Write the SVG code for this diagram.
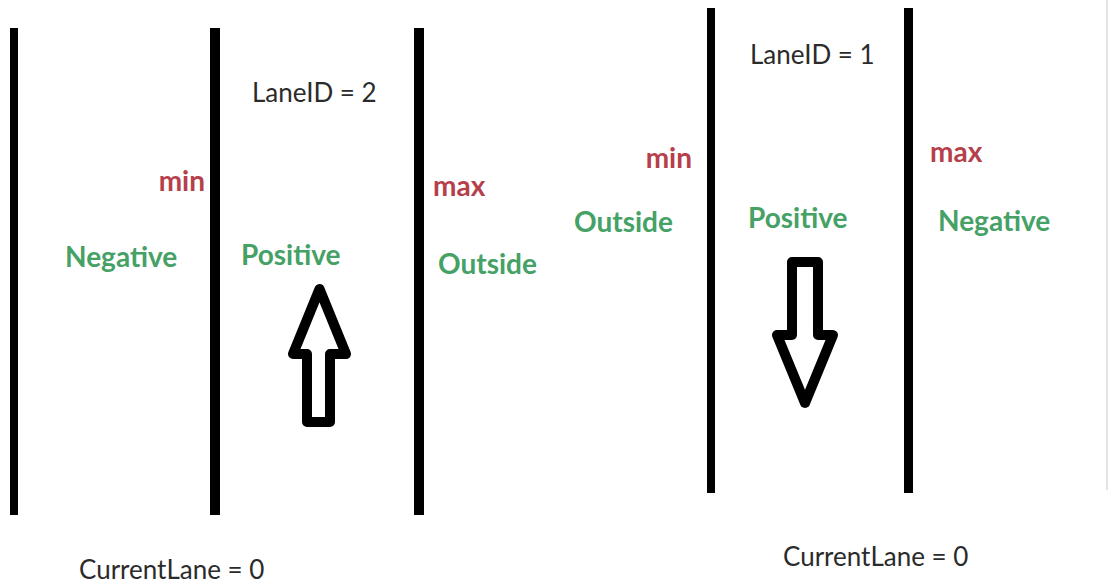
<svg xmlns="http://www.w3.org/2000/svg" width="1109" height="586" viewBox="0 0 1109 586">
  <style>
    .lane { fill: #000; }
    .note { font-family: Lato, "Open Sans", sans-serif; font-size: 26px; fill: #2b2b2b; }
    .bound { font-family: Lato, "Open Sans", sans-serif; font-size: 28px; font-weight: bold; fill: #b63f4c; }
    .side { font-family: Lato, "Open Sans", sans-serif; font-size: 28px; font-weight: bold; fill: #45a165; }
    .dir { fill: none; stroke: #000; stroke-width: 10; stroke-linejoin: round; }
  </style>
  <rect width="1109" height="586" fill="#fff"/>

  <!-- Left road: lane 2 between two boundary lines -->
  <g id="left-road">
    <g id="left-lines">
      <rect class="lane" x="10" y="28" width="8" height="487"/>
      <rect class="lane" x="210" y="28" width="10" height="487"/>
      <rect class="lane" x="414" y="28" width="10" height="487"/>
    </g>
    <g id="left-labels">
      <text class="note" x="252" y="102">LaneID = 2</text>
      <text class="bound" x="205" y="191" text-anchor="end">min</text>
      <text class="bound" x="433" y="196">max</text>
      <text class="side" x="65" y="267">Negative</text>
      <text class="side" x="241" y="265">Positive</text>
      <text class="side" x="438" y="274">Outside</text>
      <text class="note" x="79" y="579">CurrentLane = 0</text>
    </g>
  </g>

  <!-- Right road: lane 1 between two boundary lines -->
  <g id="right-road">
    <g id="right-lines">
      <rect class="lane" x="707" y="8" width="8" height="485"/>
      <rect class="lane" x="904" y="8" width="9" height="485"/>
    </g>
    <g id="right-labels">
      <text class="note" x="750" y="64">LaneID = 1</text>
      <text class="bound" x="692" y="168" text-anchor="end">min</text>
      <text class="bound" x="930" y="162">max</text>
      <text class="side" x="574" y="232">Outside</text>
      <text class="side" x="748" y="228">Positive</text>
      <text class="side" x="938" y="231">Negative</text>
      <text class="note" x="783" y="566">CurrentLane = 0</text>
    </g>
  </g>

  <!-- Travel direction arrows -->
  <g id="direction-arrows">
    <path class="dir" d="M307 422 L307 354 L293 354 L319.5 289 L346 354 L330 354 L330 422 Z"/>
    <path class="dir" d="M792 262 L792 335 L777 335 L805 403 L833 335 L818 335 L818 262 Z"/>
  </g>

  <!-- Page edge -->
  <line x1="1107" y1="0" x2="1107" y2="490" stroke="#c8c8c8" stroke-width="1"/>
</svg>
